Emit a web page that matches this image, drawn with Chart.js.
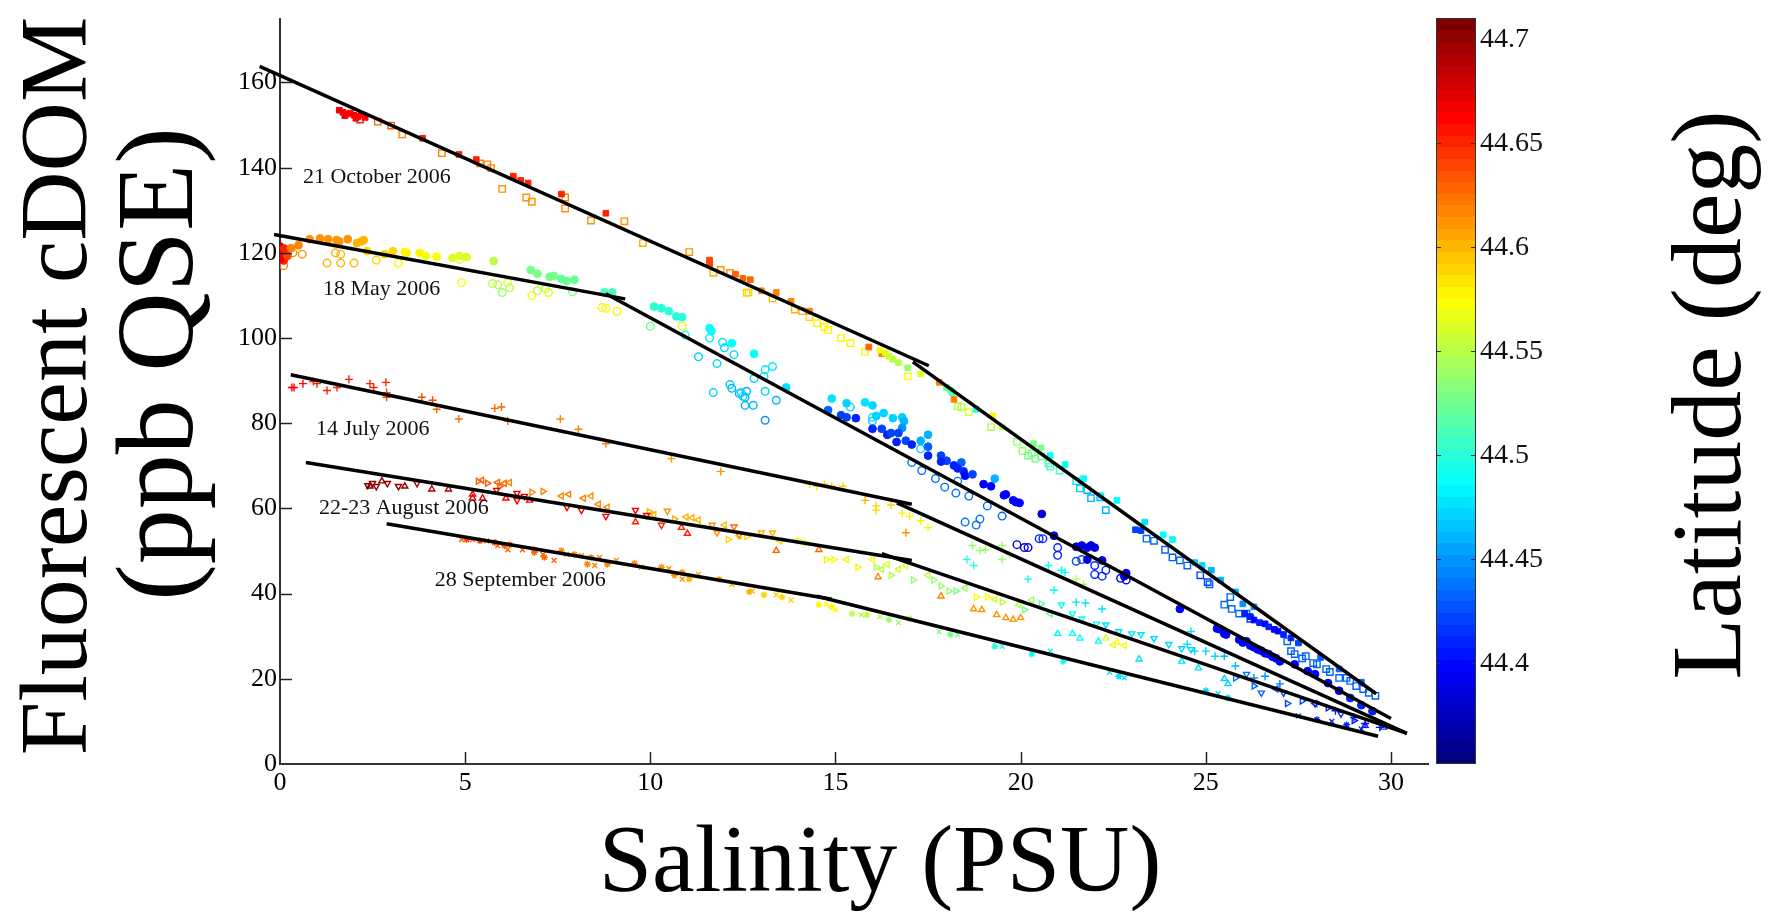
<!DOCTYPE html>
<html>
<head>
<meta charset="utf-8">
<script src="https://cdn.jsdelivr.net/npm/chart.js@4.4.1/dist/chart.umd.min.js"></script>
<style>
  html, body { margin: 0; padding: 0; background: #fff; }
  canvas { display: block; }
</style>
</head>
<body>
<canvas id="chart" width="1780" height="916"></canvas>
<script>
// each point: [salinity (PSU), fluorescent cDOM (ppb QSE), latitude (deg)]
const octFilled = [
  [1.6,153.5,44.67],[1.7,153.0,44.67],[1.8,152.6,44.67],[1.9,152.8,44.66],[2.0,152.3,44.67],[2.1,152.0,44.66],
  [2.2,152.4,44.66],[2.3,151.8,44.66],[1.75,152.2,44.67],[2.05,151.6,44.66],[3.85,146.9,44.65],[4.83,143.1,44.65],
  [5.3,141.9,44.65],[6.3,138.0,44.65],[6.5,137.0,44.65],[6.7,136.4,44.65],[7.6,133.8,44.65],[8.8,129.3,44.65],
  [11.6,118.3,44.64],[11.6,117.4,44.64],[12.3,115.0,44.63],[12.5,114.0,44.63],[12.7,113.7,44.63],[13.0,111.1,44.62],
  [13.4,110.7,44.62],[13.8,108.6,44.62],[14.3,106.3,44.62],[15.9,97.9,44.63],[16.25,96.3,44.62],[16.2,97.2,44.57],
  [16.35,96.5,44.56],[16.45,95.7,44.56],[16.55,95.0,44.55],[16.7,94.2,44.55],[16.95,93.0,44.54],[17.3,91.6,44.56],
  [17.8,89.6,44.62],[18.0,88.4,44.52],[18.1,87.8,44.52],[18.15,87.2,44.51],[18.2,85.6,44.62],[18.8,83.3,44.49],
  [19.25,81.7,44.58],[19.5,79.1,44.55],[20.35,75.2,44.53],[20.55,74.2,44.53],[20.8,72.4,44.49],[21.2,70.3,44.49],
  [21.7,67.0,44.49],[22.15,63.1,44.49],[22.6,61.9,44.49],[23.35,56.8,44.48],[23.85,53.8,44.49],[24.1,52.7,44.49],
  [23.1,55.0,44.42],[23.25,54.8,44.42],[24.7,47.3,44.47],[24.9,46.6,44.47],[25.15,45.5,44.46],[25.4,43.2,44.46],
  [25.8,40.4,44.46],[26.0,37.6,44.45],[26.3,36.9,44.45],[26.05,35.3,44.41],[26.2,34.6,44.41],[26.3,33.8,44.4],
  [26.45,33.2,44.41],[26.6,32.9,44.4],[26.7,32.2,44.41],[26.85,31.6,44.4],[26.95,31.2,44.4],[27.1,30.4,44.41],
  [27.3,29.6,44.41],[27.5,28.4,44.42],[28.1,25.0,44.43],[28.6,22.3,44.43],[29.2,19.2,44.43]
]
const octOpen = [
  [2.16,151.3,44.65],[2.64,150.8,44.63],[3.0,149.9,44.63],[3.3,147.8,44.62],[4.37,143.4,44.62],[5.4,141.0,44.62],
  [5.6,140.8,44.62],[5.7,139.9,44.62],[6.0,135.0,44.61],[6.65,133.0,44.61],[6.8,132.0,44.61],[7.7,133.0,44.62],
  [7.7,130.4,44.61],[8.4,127.6,44.61],[9.3,127.4,44.61],[9.8,122.3,44.6],[11.05,120.2,44.61],[11.7,115.3,44.6],
  [11.9,116.0,44.61],[12.15,115.3,44.61],[12.6,110.6,44.59],[12.65,110.7,44.59],[13.3,109.3,44.6],[13.9,106.7,44.6],
  [14.1,106.3,44.6],[14.3,104.9,44.59],[14.5,103.5,44.58],[14.7,102.6,44.58],[14.8,101.9,44.58],[15.15,100.0,44.58],
  [15.4,98.8,44.58],[15.8,96.8,44.58],[16.95,91.0,44.57],[18.3,84.0,44.55],[18.4,83.8,44.55],[18.6,82.6,44.56],
  [19.2,79.1,44.55],[19.9,75.6,44.54],[20.05,73.5,44.54],[20.2,72.4,44.53],[20.3,72.9,44.53],[20.4,71.7,44.53],
  [20.55,72.2,44.52],[20.75,70.5,44.51],[20.8,69.8,44.51],[21.05,68.9,44.51],[21.5,66.4,44.48],[21.6,64.7,44.47],
  [21.8,64.3,44.46],[21.9,62.4,44.46],[22.15,62.6,44.46],[22.3,59.6,44.46],[23.4,52.9,44.43],[23.6,52.4,44.43],
  [23.9,50.3,44.43],[24.1,48.5,44.43],[24.3,47.8,44.43],[24.5,46.6,44.43],[24.85,44.3,44.42],[25.05,42.7,44.42],
  [25.1,42.2,44.43],[25.5,37.4,44.43],[25.66,39.2,44.43],[25.7,36.4,44.43],[25.9,35.3,44.43],[26.1,35.3,44.43],
  [26.2,34.1,44.42],[27.2,28.8,44.43],[27.3,26.5,44.43],[27.4,25.8,44.43],[27.6,24.8,44.43],[27.7,25.3,44.43],
  [27.9,23.7,44.43],[28.0,23.4,44.43],[28.25,22.3,44.43],[28.35,21.6,44.43],[28.6,20.2,44.43],[28.8,20.2,44.43],
  [28.9,19.5,44.43],[29.06,18.3,44.43],[29.25,17.6,44.43],[29.4,16.7,44.43],[29.58,16.0,44.43]
]
const mayFilled = [
  [0.0,121.5,44.68],[0.05,120.8,44.67],[0.1,119.8,44.67],[0.05,119.0,44.66],[0.1,118.2,44.65],[0.15,120.2,44.66],
  [0.0,118.5,44.67],[0.12,121.0,44.65],[0.2,119.3,44.64],[0.3,121.1,44.62],[0.5,121.8,44.62],[0.8,123.2,44.61],
  [1.08,123.4,44.61],[1.3,123.2,44.61],[1.53,123.0,44.61],[1.6,122.7,44.61],[1.83,123.2,44.61],[2.08,122.3,44.6],
  [2.2,122.7,44.6],[2.26,123.0,44.6],[2.35,120.4,44.59],[2.83,119.7,44.59],[3.05,120.4,44.59],[3.37,120.2,44.58],
  [3.42,120.0,44.58],[3.77,120.0,44.58],[3.94,119.3,44.57],[4.23,119.1,44.57],[4.66,118.8,44.56],[4.85,119.3,44.56],
  [5.04,119.0,44.56],[5.77,118.1,44.55],[6.77,116.0,44.53],[6.95,115.1,44.53],[7.28,114.4,44.53],[7.4,114.6,44.53],
  [7.6,113.9,44.52],[7.74,113.4,44.52],[7.95,113.7,44.52],[8.76,110.7,44.51],[8.97,110.7,44.51],[10.1,107.4,44.5],
  [10.3,107.0,44.5],[10.5,106.3,44.5],[10.7,105.1,44.5],[10.86,104.9,44.5],[11.6,102.3,44.49],[11.65,101.6,44.49],
  [12.2,98.8,44.49],[12.8,96.3,44.49],[13.67,88.4,44.48],[14.9,85.8,44.48],[15.3,84.7,44.47],[15.8,84.9,44.48],
  [16.0,84.2,44.47],[14.8,83.1,44.43],[15.15,81.9,44.42],[15.3,81.4,44.42],[15.55,81.2,44.41],[16.1,81.7,44.47],
  [16.3,82.4,44.47],[16.55,81.2,44.47],[16.8,81.4,44.47],[16.85,80.5,44.46],[16.8,78.9,44.45],[17.5,77.3,44.46],
  [17.3,75.9,44.46],[16.0,78.7,44.41],[16.25,78.7,44.42],[16.4,77.3,44.41],[16.5,77.7,44.42],[16.7,77.7,44.42],
  [16.65,75.6,44.41],[16.9,75.9,44.42],[17.06,75.0,44.41],[17.5,74.5,44.43],[17.5,72.4,44.41],[17.85,72.4,44.42],
  [18.0,71.2,44.42],[17.85,71.0,44.41],[18.2,70.1,44.41],[18.4,70.8,44.43],[18.3,69.4,44.41],[18.46,68.7,44.41],
  [18.5,67.7,44.4],[18.7,68.0,44.42],[19.3,67.0,44.46],[19.0,65.7,44.4],[19.2,65.2,44.4],[19.55,63.1,44.4],
  [19.6,63.3,44.4],[19.8,61.9,44.4],[19.87,61.5,44.4],[19.97,61.3,44.4],[20.57,58.7,44.39],[20.9,53.6,44.39],
  [21.5,51.0,44.39],[21.65,51.3,44.39],[21.8,50.8,44.39],[21.9,51.3,44.39],[22.0,50.8,44.39],[21.8,48.0,44.39],
  [22.2,47.8,44.39],[22.85,44.8,44.39],[22.8,44.1,44.39],[24.3,36.4,44.4],[25.3,31.8,44.4],[25.4,31.6,44.4],
  [25.5,30.6,44.4],[25.55,30.4,44.4],[25.9,29.2,44.4],[26.0,28.5,44.4],[26.1,28.8,44.4],[26.2,27.8,44.4],
  [26.3,27.4,44.39],[26.4,26.9,44.4],[26.5,26.6,44.4],[26.6,26.0,44.39],[26.7,25.8,44.4],[26.8,25.2,44.4],
  [26.9,24.8,44.39],[27.0,24.1,44.4],[27.4,23.4,44.4],[27.75,21.8,44.4],[27.95,21.1,44.4],[28.3,19.0,44.4],
  [28.6,17.2,44.4],[28.9,15.5,44.41],[29.2,13.8,44.41],[29.5,12.4,44.41]
]
const mayOpen = [
  [0.1,117.0,44.62],[0.35,120.0,44.61],[0.6,119.7,44.61],[1.27,117.6,44.6],[1.5,120.0,44.6],[1.64,119.7,44.6],
  [1.64,117.6,44.6],[2.0,117.6,44.6],[2.6,118.3,44.59],[3.2,117.6,44.58],[4.9,113.0,44.57],[4.85,118.5,44.56],
  [5.74,112.8,44.55],[5.88,112.5,44.55],[6.15,113.0,44.56],[6.2,111.8,44.55],[6.0,110.7,44.54],[6.8,110.0,44.57],
  [6.95,111.1,44.55],[7.17,111.6,44.55],[7.25,110.7,44.56],[7.9,110.9,44.53],[8.7,107.2,44.58],[8.8,107.0,44.57],
  [9.1,106.3,44.58],[10.0,102.8,44.52],[10.86,102.8,44.58],[10.94,100.7,44.49],[11.3,95.6,44.47],[11.6,100.0,44.48],
  [11.8,94.0,44.47],[11.95,99.0,44.48],[12.0,97.7,44.47],[12.26,96.1,44.47],[11.7,87.2,44.47],[12.15,89.1,44.47],
  [12.2,88.2,44.46],[12.4,87.0,44.46],[12.56,86.1,44.46],[12.6,87.5,44.46],[12.8,90.5,44.47],[13.1,92.6,44.48],
  [13.3,93.3,44.48],[13.07,91.0,44.48],[12.45,87.2,44.47],[12.5,86.3,44.47],[12.56,84.2,44.46],[12.78,84.2,44.46],
  [13.1,87.5,44.47],[13.4,85.4,44.46],[13.1,80.7,44.45],[15.4,83.8,44.47],[16.0,81.4,44.48],[16.0,80.5,44.47],
  [17.3,74.0,44.47],[17.06,70.8,44.44],[17.33,68.9,44.44],[17.7,67.0,44.44],[18.3,66.4,44.44],[17.95,65.0,44.44],
  [18.25,63.6,44.44],[18.6,62.9,44.44],[19.1,60.6,44.43],[19.5,58.2,44.43],[18.5,56.8,44.44],[18.8,56.1,44.44],
  [18.9,57.5,44.44],[19.9,51.5,44.39],[20.1,50.8,44.39],[20.2,50.8,44.39],[20.5,52.9,44.41],[20.6,52.9,44.41],
  [21.0,50.8,44.41],[21.0,49.0,44.41],[21.5,47.6,44.42],[21.65,48.0,44.42],[22.0,46.6,44.41],[22.3,45.5,44.41],
  [22.0,44.5,44.41],[22.2,44.1,44.41],[22.7,43.6,44.4],[22.85,43.2,44.4]
]
const julPlus = [
  [0.32,88.4,44.66],[0.38,88.4,44.66],[0.62,89.3,44.66],[0.9,89.8,44.65],[1.0,89.3,44.65],[1.27,87.7,44.65],
  [1.54,88.4,44.65],[1.86,90.3,44.65],[2.43,89.3,44.65],[2.53,88.4,44.65],[2.86,89.6,44.65],[2.88,87.2,44.64],
  [2.88,86.1,44.64],[3.83,86.1,44.64],[4.12,85.4,44.64],[4.23,83.3,44.63],[4.83,81.0,44.63],[5.8,83.5,44.63],
  [5.98,83.8,44.63],[6.15,80.5,44.63],[7.57,81.0,44.62],[8.06,78.6,44.62],[8.8,75.2,44.62],[10.57,71.7,44.61],
  [11.9,68.7,44.61],[14.3,65.7,44.59],[14.5,65.2,44.59],[14.7,65.7,44.59],[14.9,65.2,44.59],[15.2,65.2,44.59],
  [15.8,61.9,44.6],[16.1,60.6,44.59],[16.1,59.6,44.59],[16.5,60.8,44.59],[16.8,58.9,44.58],[17.0,58.2,44.58],
  [17.3,57.1,44.58],[17.5,55.5,44.58],[16.9,54.3,44.61],[18.7,51.3,44.54],[18.9,50.1,44.54],[19.05,50.3,44.54],
  [19.5,51.3,44.54],[19.5,48.0,44.54],[19.7,49.2,44.54],[21.5,43.4,44.55],[21.7,42.2,44.55],[18.55,48.0,44.5],
  [18.73,46.6,44.5],[20.2,43.4,44.49],[20.75,46.6,44.49],[20.9,40.8,44.49],[21.1,45.5,44.49],[21.2,45.0,44.49],
  [21.5,38.0,44.48],[21.75,37.8,44.48],[22.2,36.4,44.48],[24.6,31.1,44.48],[24.5,28.1,44.48],[24.7,26.5,44.47],
  [25.0,26.5,44.47],[25.25,25.3,44.47],[25.5,25.3,44.46],[25.8,23.0,44.46],[26.3,20.2,44.45],[26.6,20.6,44.45],
  [27.0,18.8,44.44],[28.5,12.5,44.41],[29.0,10.9,44.41],[29.3,9.5,44.4],[29.7,8.6,44.4]
]
const augUp = [
  [2.43,65.2,44.7],[2.75,66.4,44.7],[3.37,65.2,44.7],[4.1,64.5,44.69],[4.55,64.5,44.69],[5.2,63.3,44.67],
  [5.2,62.4,44.67],[5.47,62.4,44.67],[6.1,62.4,44.66],[6.74,61.9,44.66],[9.6,56.8,44.65],[11.0,54.1,44.65],
  [10.84,55.5,44.65],[13.4,50.1,44.63],[14.55,50.3,44.63],[16.15,43.9,44.62],[17.85,39.4,44.62],[18.73,36.4,44.61],
  [18.95,36.2,44.61],[19.35,35.0,44.61],[19.6,34.3,44.61],[19.8,33.9,44.61],[20.0,34.3,44.61],[21.0,30.6,44.49],
  [21.4,30.6,44.49],[21.6,29.5,44.49],[22.1,28.8,44.49],[23.2,24.6,44.48],[24.35,24.1,44.48],[24.8,22.5,44.48],
  [25.5,20.0,44.47],[25.6,18.8,44.47],[22.3,29.5,44.56],[22.6,28.6,44.57],[29.3,9.0,44.41],[29.8,8.6,44.42]
]
const augDown = [
  [2.37,65.4,44.7],[2.5,65.9,44.7],[2.6,65.2,44.7],[2.9,65.9,44.7],[3.2,65.2,44.7],[3.7,65.9,44.69],
  [5.85,64.3,44.67],[6.4,63.6,44.67],[6.6,62.9,44.67],[6.4,61.9,44.67],[7.75,60.3,44.66],[8.14,59.6,44.66],
  [8.8,58.2,44.66],[9.6,59.6,44.66],[9.9,58.4,44.66],[10.3,56.1,44.65],[12.26,55.7,44.63],[10.46,59.4,44.61],
  [11.67,56.1,44.61],[11.8,54.3,44.61],[12.4,53.8,44.62],[13.0,54.3,44.6],[13.3,54.3,44.6],[21.1,37.4,44.49],
  [21.4,35.3,44.49],[21.65,34.1,44.49],[22.05,32.9,44.49],[22.3,32.7,44.48],[22.65,31.1,44.48],[23.0,30.6,44.48],
  [23.25,30.4,44.48],[23.6,29.5,44.47],[24.0,28.1,44.47],[24.35,27.1,44.47],[24.6,26.9,44.47],[26.1,21.1,44.44],
  [26.5,16.7,44.43],[27.1,16.7,44.42],[27.95,14.2,44.41],[28.65,11.8,44.41]
]
const augRight = [
  [5.35,66.4,44.63],[5.6,65.9,44.63],[5.93,65.2,44.63],[6.8,63.8,44.62],[7.1,64.0,44.62],[9.97,59.2,44.6],
  [10.65,57.5,44.6],[12.1,52.7,44.59],[12.6,53.4,44.59],[14.0,52.4,44.58],[14.2,52.0,44.57],[14.75,48.0,44.58],
  [14.95,48.0,44.57],[15.6,46.2,44.58],[16.1,46.2,44.55],[16.5,44.3,44.55],[17.1,43.2,44.54],[17.65,43.2,44.54],
  [17.85,41.8,44.54],[18.06,40.6,44.54],[18.25,40.6,44.53],[18.8,39.2,44.57],[19.1,39.2,44.57],[19.5,38.0,44.55],
  [20.1,36.2,44.53],[20.55,37.6,44.52],[25.8,20.2,44.44],[26.3,18.3,44.43],[27.2,14.2,44.42],[27.6,14.8,44.42],
  [28.3,13.2,44.41],[29.0,10.2,44.41]
]
const augLeft = [
  [5.45,66.6,44.63],[5.88,66.1,44.63],[6.06,65.9,44.63],[6.2,66.1,44.62],[7.6,62.9,44.62],[7.8,63.3,44.62],
  [8.2,62.4,44.62],[8.4,62.9,44.61],[8.6,61.0,44.62],[8.84,60.3,44.61],[10.1,58.5,44.6],[10.97,58.0,44.6],
  [11.13,57.8,44.6],[11.3,57.3,44.6],[12.0,56.1,44.6],[12.4,53.6,44.59],[13.5,52.4,44.59],[15.3,48.0,44.58],
  [16.0,48.0,44.57],[16.25,45.7,44.55],[16.4,46.9,44.56],[16.7,45.7,44.56],[16.9,46.6,44.56],[17.5,44.3,44.55],
  [18.5,41.3,44.54],[19.3,38.7,44.56],[19.95,37.4,44.55],[20.3,38.5,44.54],[20.8,35.3,44.52],[22.5,28.0,44.56],
  [22.8,27.8,44.57],[26.9,17.6,44.43],[27.95,14.2,44.42]
]
const sepX = [
  [4.9,52.7,44.63],[5.2,52.7,44.63],[5.58,52.4,44.63],[5.88,51.3,44.63],[6.15,50.3,44.63],[6.55,50.3,44.63],
  [7.1,49.2,44.63],[7.4,47.8,44.63],[7.74,49.2,44.62],[8.14,48.9,44.62],[8.5,46.6,44.62],[8.63,48.5,44.62],
  [9.08,47.8,44.62],[9.76,46.2,44.62],[10.5,45.9,44.61],[10.86,43.4,44.61],[11.3,44.5,44.6],[12.2,42.2,44.6],
  [12.75,40.6,44.6],[13.4,39.7,44.59],[13.8,38.5,44.59],[14.75,37.6,44.58],[15.0,36.2,44.57],[15.7,35.0,44.55],
  [16.2,34.6,44.55],[16.7,33.2,44.54],[17.8,31.1,44.53],[18.3,30.4,44.52],[19.5,27.6,44.5],[20.8,26.5,44.49],
  [22.4,21.6,44.48],[22.8,20.2,44.48],[25.33,16.5,44.47],[27.5,11.3,44.42],[28.4,10.0,44.41],[29.2,8.2,44.41]
]
const sepStar = [
  [5.04,52.7,44.64],[5.4,52.4,44.64],[5.8,52.0,44.64],[6.06,51.3,44.63],[6.2,51.5,44.63],[6.87,49.7,44.63],
  [6.87,50.3,44.63],[7.14,48.5,44.63],[7.6,50.1,44.62],[7.95,49.2,44.62],[8.3,46.9,44.62],[8.4,48.5,44.62],
  [8.84,46.9,44.62],[9.57,47.1,44.62],[10.3,46.2,44.61],[10.65,44.3,44.61],[10.86,45.0,44.61],[11.05,43.4,44.6],
  [11.86,43.4,44.6],[12.67,40.4,44.6],[13.07,39.7,44.59],[13.56,39.2,44.59],[14.55,37.4,44.58],[14.9,36.9,44.58],
  [15.45,35.3,44.55],[15.85,35.0,44.55],[16.44,33.9,44.54],[17.0,34.1,44.55],[18.1,30.4,44.53],[19.3,27.6,44.5],
  [20.3,25.8,44.49],[21.15,24.1,44.49],[22.65,20.6,44.48],[25.0,17.2,44.47],[25.6,15.5,44.47],[28.0,10.4,44.41],
  [28.8,9.2,44.41]
]

// piecewise mixing lines: [salinity, cDOM] end points
const octFit1 = [[-0.55,163.8],[17.52,93.5]]
const octFit2 = [[17.09,94.4],[29.6,16.5]]
const mayFit1 = [[-0.16,124.3],[9.32,109.2]]
const mayFit2 = [[8.8,110.4],[30.0,10.7]]
const julFit1 = [[0.29,91.4],[17.06,61.0]]
const julFit2 = [[16.66,61.3],[30.43,7.2]]
const augFit1 = [[0.7,70.8],[17.06,47.8]]
const augFit2 = [[16.25,49.4],[30.43,7.2]]
const sepFit1 = [[2.88,56.4],[14.9,38.7]]
const sepFit2 = [[14.5,39.4],[29.65,6.5]]

const cruiseNames = ['21 October 2006', '18 May 2006', '14 July 2006', '22-23 August 2006', '28 September 2006']
const xTicks = [0, 5, 10, 15, 20, 25, 30]
const yTicks = [0, 20, 40, 60, 80, 100, 120, 140, 160]
const latTicks = [44.4, 44.45, 44.5, 44.55, 44.6, 44.65, 44.7]
const latMin = 44.3515
const latMax = 44.71

const SERIF = '"Liberation Serif", "Times New Roman", serif'

function jet(v) {
  let t = (v - latMin) / (latMax - latMin)
  t = Math.min(1, Math.max(0, t))
  t = Math.floor(t * 63.999) / 63
  const c = k => Math.round(255 * Math.min(1, Math.max(0, k)))
  const r = c(Math.min(4 * t - 1.5, -4 * t + 4.5))
  const g = c(Math.min(4 * t - 0.5, -4 * t + 3.5))
  const b = c(Math.min(4 * t + 0.5, -4 * t + 2.5))
  return `rgb(${r},${g},${b})`
}

const toPts = arr => arr.map(([x, y, lat]) => ({ x, y, lat }))
const toLine = arr => arr.map(([x, y]) => ({ x, y }))
const colorOf = ctx => jet(ctx.raw ? ctx.raw.lat : latMin)

function fitLine(arr) {
  return {
    data: toLine(arr), showLine: true, borderColor: '#000', borderWidth: 3.5,
    pointRadius: 0, clip: false, fill: false
  }
}
function marker(arr, style, radius, filled, rotation = 0) {
  return {
    data: toPts(arr), pointStyle: style, pointRadius: radius, pointRotation: rotation,
    pointBorderColor: colorOf,
    pointBackgroundColor: filled ? colorOf : 'rgba(0,0,0,0)',
    pointBorderWidth: filled ? 1 : 1.4
  }
}

// label anchors in data units (left end, baseline)
const labelAnchors = [[0.62, 136.4], [1.16, 110.0], [0.97, 77.3], [1.05, 58.6], [4.18, 41.8]]

const decorations = {
  id: 'decorations',
  afterDraw(chart) {
    const { ctx, chartArea: area, scales: { x, y } } = chart
    ctx.save()

    // inward tick marks
    ctx.strokeStyle = '#222'
    ctx.lineWidth = 1.5
    xTicks.slice(1).forEach(v => {
      const px = Math.round(x.getPixelForValue(v)) + 0.5
      ctx.beginPath(); ctx.moveTo(px, area.bottom); ctx.lineTo(px, area.bottom - 12); ctx.stroke()
    })
    yTicks.slice(1).forEach(v => {
      const py = Math.round(y.getPixelForValue(v)) + 0.5
      ctx.beginPath(); ctx.moveTo(area.left, py); ctx.lineTo(area.left + 12, py); ctx.stroke()
    })

    // cruise labels
    ctx.fillStyle = '#111'
    ctx.font = `22px ${SERIF}`
    ctx.textAlign = 'left'
    ctx.textBaseline = 'alphabetic'
    cruiseNames.forEach((name, i) => {
      ctx.fillText(name, x.getPixelForValue(labelAnchors[i][0]), y.getPixelForValue(labelAnchors[i][1]))
    })

    // colour bar
    const cb = { left: area.right + 8, right: area.right + 48, top: area.top, bottom: area.bottom }
    const h = cb.bottom - cb.top
    const latToY = v => cb.bottom - (v - latMin) / (latMax - latMin) * h
    for (let i = 0; i < 64; i++) {
      const v0 = latMin + (latMax - latMin) * i / 64
      const v1 = latMin + (latMax - latMin) * (i + 1) / 64
      ctx.fillStyle = jet((v0 + v1) / 2)
      const yTop = Math.floor(latToY(v1)), yBot = Math.ceil(latToY(v0))
      ctx.fillRect(cb.left, yTop, cb.right - cb.left, yBot - yTop)
    }
    ctx.strokeStyle = '#333'
    ctx.lineWidth = 1
    ctx.strokeRect(cb.left + 0.5, cb.top + 0.5, cb.right - cb.left - 1, h - 1)
    ctx.fillStyle = '#111'
    ctx.font = `28px ${SERIF}`
    ctx.textBaseline = 'middle'
    latTicks.forEach(v => {
      const py = Math.round(latToY(v)) + 0.5
      ctx.beginPath()
      ctx.moveTo(cb.left, py); ctx.lineTo(cb.left + 5, py)
      ctx.moveTo(cb.right, py); ctx.lineTo(cb.right - 5, py)
      ctx.stroke()
      ctx.fillText(String(v), cb.right + 4, py)
    })

    // axis titles
    ctx.fillStyle = '#000'
    ctx.textAlign = 'center'
    ctx.textBaseline = 'alphabetic'
    const vertical = (text, size, px, py) => {
      ctx.save(); ctx.font = `${size}px ${SERIF}`
      ctx.translate(px, py); ctx.rotate(-Math.PI / 2); ctx.fillText(text, 0, 0); ctx.restore()
    }
    vertical('Fluorescent cDOM', 96, 86, 386)
    vertical('(ppb QSE)', 110, 192, 364)
    vertical('Latitude (deg)', 100, 1740, 395)
    ctx.font = `96px ${SERIF}`
    ctx.fillText('Salinity (PSU)', 880, 891)

    ctx.restore()
  }
}

new Chart(document.getElementById('chart'), {
  type: 'scatter',
  data: {
    datasets: [
      fitLine(octFit1), fitLine(octFit2), fitLine(mayFit1), fitLine(mayFit2),
      fitLine(julFit1), fitLine(julFit2), fitLine(augFit1), fitLine(augFit2),
      fitLine(sepFit1), fitLine(sepFit2),
      marker(octFilled, 'rect', 4, true),
      marker(octOpen, 'rect', 4.5, false),
      marker(mayFilled, 'circle', 3.9, true),
      marker(mayOpen, 'circle', 3.8, false),
      marker(julPlus, 'cross', 4, false),
      marker(augUp, 'triangle', 3.5, false, 0),
      marker(augDown, 'triangle', 3.5, false, 180),
      marker(augRight, 'triangle', 3.5, false, 90),
      marker(augLeft, 'triangle', 3.5, false, 270),
      marker(sepX, 'crossRot', 3.4, false),
      marker(sepStar, 'star', 3.4, false)
    ]
  },
  options: {
    responsive: false,
    devicePixelRatio: 1,
    animation: false,
    events: [],
    layout: { padding: { left: 220, right: 352, top: 10, bottom: 112 } },
    plugins: { legend: { display: false }, tooltip: { enabled: false } },
    scales: {
      x: {
        type: 'linear', min: 0, max: 31,
        grid: { display: false, drawTicks: false },
        border: { display: true, color: '#333', width: 2 },
        ticks: { color: '#000', font: { family: SERIF, size: 26 }, padding: 4 },
        afterBuildTicks: s => { s.ticks = xTicks.map(v => ({ value: v })) },
        afterFit: s => { s.height = 40 }
      },
      y: {
        type: 'linear', min: 0, max: 175,
        grid: { display: false, drawTicks: false },
        border: { display: true, color: '#333', width: 2 },
        ticks: { color: '#000', font: { family: SERIF, size: 26 }, padding: 3 },
        afterBuildTicks: s => { s.ticks = yTicks.map(v => ({ value: v })) },
        afterFit: s => { s.width = 60 }
      }
    }
  },
  plugins: [decorations]
})
</script>
</body>
</html>
